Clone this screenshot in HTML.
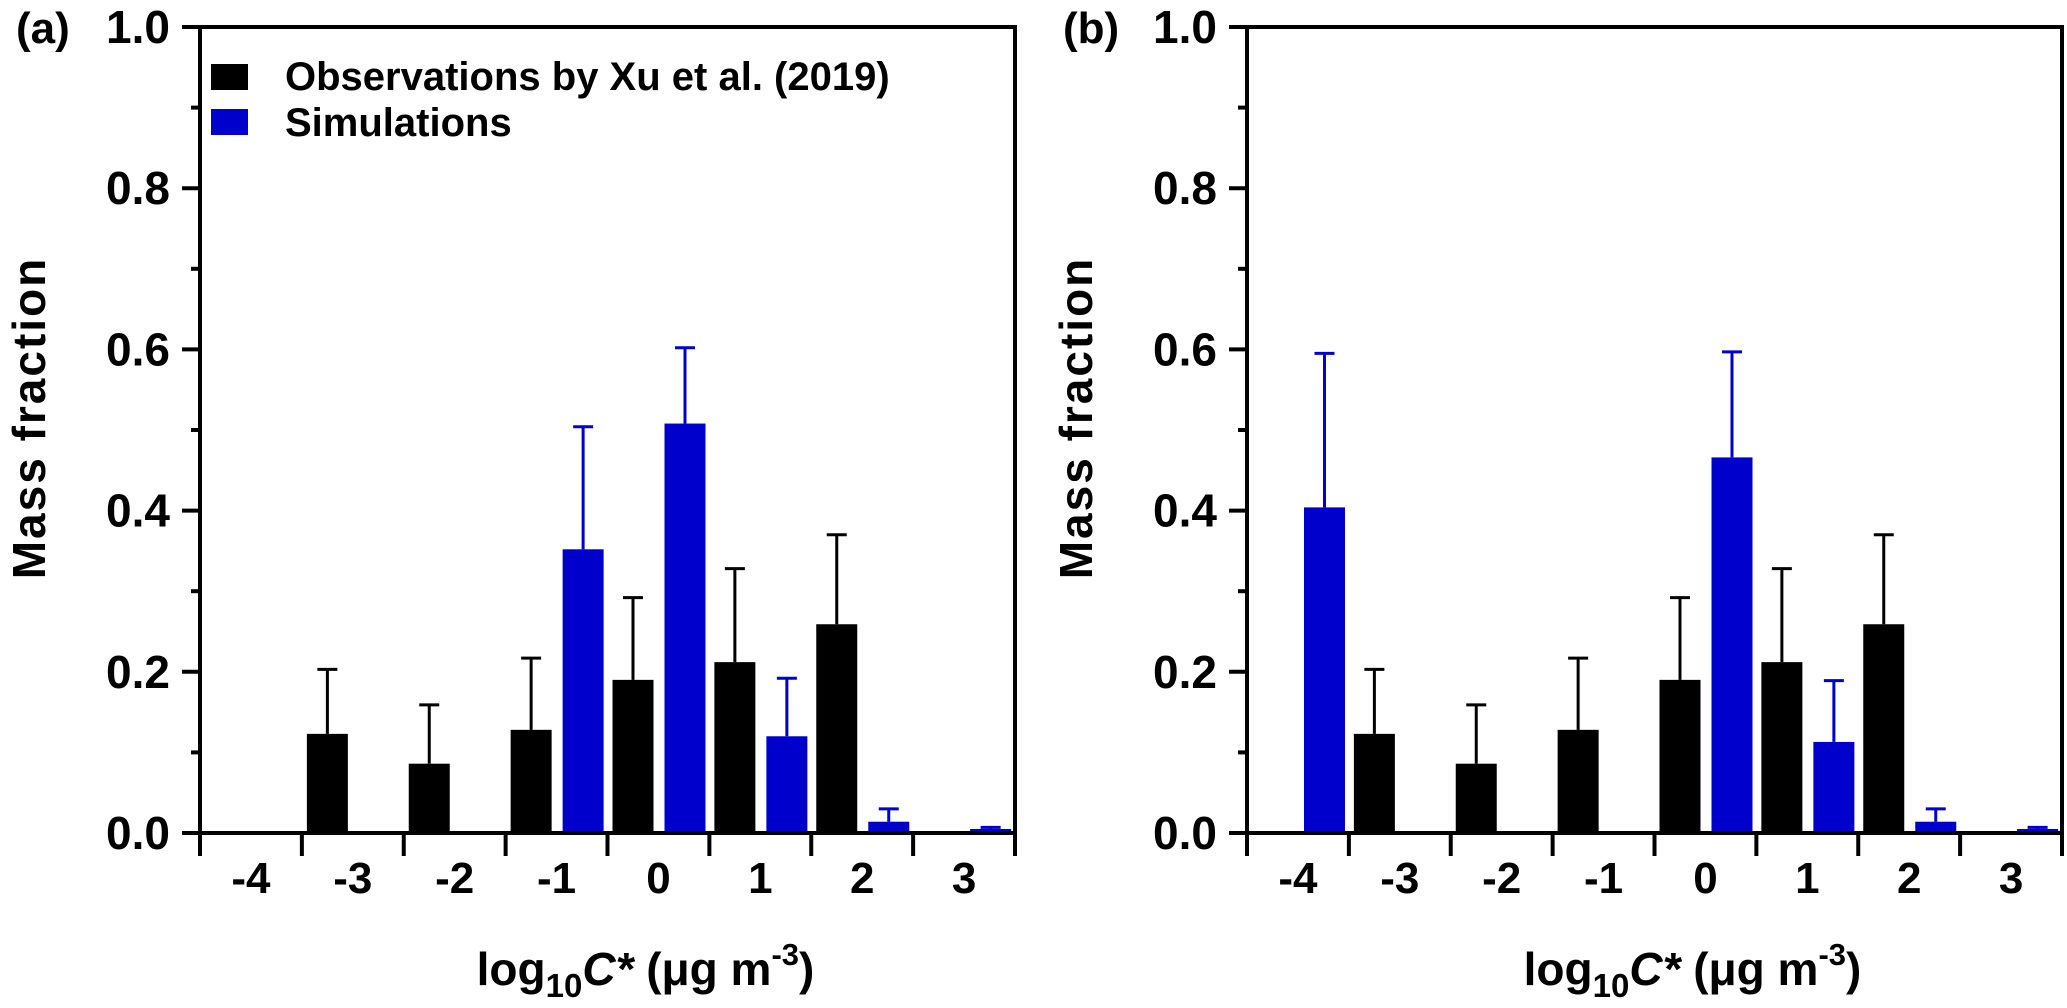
<!DOCTYPE html>
<html><head><meta charset="utf-8"><style>
html,body{margin:0;padding:0;background:#fff;}
svg{display:block;font-family:"Liberation Sans",Arial,sans-serif;font-weight:bold;}
</style></head><body>
<svg id="chart" width="2067" height="1008" viewBox="0 0 2067 1008" xmlns="http://www.w3.org/2000/svg"></svg>
<script>
const categories = ["-4","-3","-2","-1","0","1","2","3"];
const yTicks = [0.0,0.2,0.4,0.6,0.8,1.0];
const yTickLabels = ["0.0","0.2","0.4","0.6","0.8","1.0"];
const obsValues = [0,0.123,0.086,0.128,0.19,0.212,0.259,0];
const obsErrors = [0,0.203,0.159,0.217,0.292,0.328,0.37,0];
const simAValues = [0,0,0,0.352,0.508,0.12,0.014,0.005];
const simAErrors = [0,0,0,0.504,0.602,0.192,0.03,0.007];
const simBValues = [0.404,0,0,0,0.466,0.113,0.014,0.005];
const simBErrors = [0.595,0,0,0,0.597,0.189,0.03,0.007];

const NS="http://www.w3.org/2000/svg";
const svg=document.getElementById('chart');
function mk(tag,attrs,parent,text){const e=document.createElementNS(NS,tag);for(const k in attrs)e.setAttribute(k,attrs[k]);if(text!==undefined)e.textContent=text;(parent||svg).appendChild(e);return e;}

const Y0=833, Y1=27;
function yScale(v){return Y0-(Y0-Y1)*v;}

function panel(id,left,right,letter,simV,simE,showLegend){
  const g=mk('g',{});
  
  
  const step=(right-left)/categories.length;
  function xCat(i){return left+i*step;}
  const bw=41, blk=5, blu=57;
  categories.forEach((c,i)=>{
    if(obsValues[i]>0){
      const r=mk('rect',{x:xCat(i)+blk,y:yScale(obsValues[i]),width:bw,height:Y0-yScale(obsValues[i]),fill:'#000'},g);
      
      
      const cx=xCat(i)+blk+bw/2;
      const eb=mk('path',{d:`M${cx},${yScale(obsValues[i])}V${yScale(obsErrors[i])}M${cx-10},${yScale(obsErrors[i])}H${cx+10}`,stroke:'#000','stroke-width':3,fill:'none'},g);
      
      
    }
    if(simV[i]>0){
      const r=mk('rect',{x:xCat(i)+blu,y:yScale(simV[i]),width:bw,height:Y0-yScale(simV[i]),fill:'#0000cc'},g);
      
      
      const cx=xCat(i)+blu+bw/2;
      const eb=mk('path',{d:`M${cx},${yScale(simV[i])}V${yScale(simE[i])}M${cx-10},${yScale(simE[i])}H${cx+10}`,stroke:'#0000cc','stroke-width':3,fill:'none'},g);
      
      
    }
  });
  const fr=mk('path',{d:`M${left},${Y0}V${Y1}H${right}V${Y0}H${left}`,stroke:'#000','stroke-width':4,fill:'none'},g);
  
  
  for(let k=0;k<=10;k++){
    const v=k/10, y=yScale(v), major=(k%2===0);
    mk('line',{x1:left-(major?18:9),x2:left,y1:y,y2:y,stroke:'#000','stroke-width':4},g);
  }
  yTicks.forEach((v,i)=>{
    const t=mk('text',{x:left-30,y:yScale(v)+16,'text-anchor':'end','font-size':46},g,yTickLabels[i]);
    
    
  });
  for(let i=0;i<=categories.length;i++){
    mk('line',{x1:xCat(i),x2:xCat(i),y1:Y0,y2:Y0+23,stroke:'#000','stroke-width':4},g);
  }
  categories.forEach((c,i)=>{
    const t=mk('text',{x:xCat(i)+step/2,y:893,'text-anchor':'middle','font-size':44},g,c);
    
    
  });
  const pl=mk('text',{x:left-184,y:43,'font-size':44},g,'('+letter+')');
  
  
  const yt=mk('text',{x:0,y:0,'text-anchor':'middle','font-size':46,transform:`translate(${left-155},418) rotate(-90)`,'letter-spacing':'2'},g,'Mass fraction');
  
  
  const xt=mk('text',{x:(left+right)/2+38,y:985,'text-anchor':'middle','font-size':46},g);
  
  
  mk('tspan',{},xt,'log');
  mk('tspan',{dy:12,'font-size':33},xt,'10');
  mk('tspan',{dy:-12,'font-style':'italic'},xt,'C*');
  mk('tspan',{},xt,' (μg m');
  mk('tspan',{dy:-20,'font-size':31},xt,'-3');
  mk('tspan',{dy:20},xt,')');
  if(showLegend){
    const lg=mk('g',{},g);
    
    
    const s1=mk('rect',{x:211,y:64,width:37,height:26,fill:'#000'},lg);
    
    
    const t1=mk('text',{x:285,y:90,'font-size':40},lg,'Observations by Xu et al. (2019)');
    
    
    const s2=mk('rect',{x:211,y:109,width:37,height:26,fill:'#0000cc'},lg);
    
    
    const t2=mk('text',{x:285,y:136,'font-size':40},lg,'Simulations');
    
    
  }
}
panel('a',200,1015,'a',simAValues,simAErrors,true);
panel('b',1247,2062,'b',simBValues,simBErrors,false);
</script>
</body></html>
